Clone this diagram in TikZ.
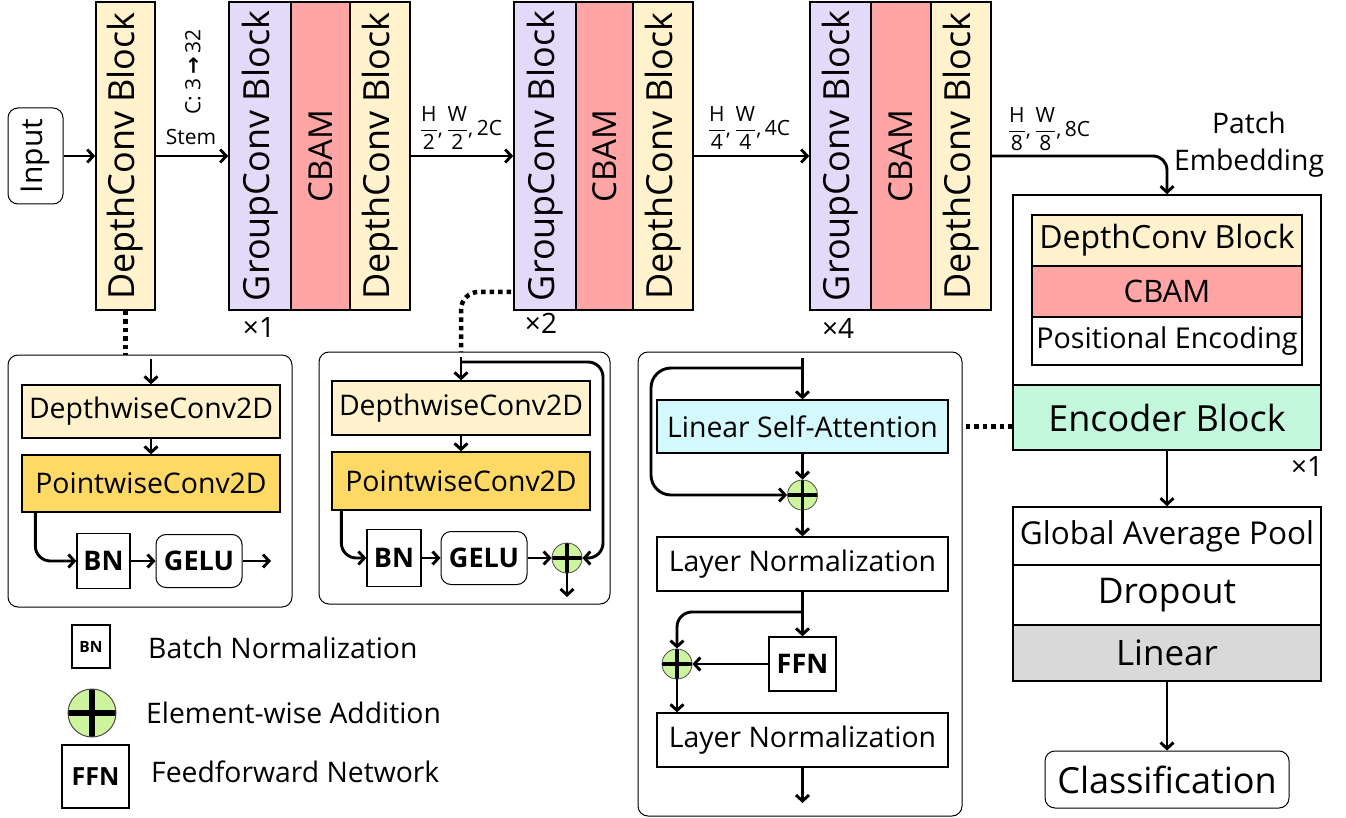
\documentclass[tikz,border=0pt]{standalone}
\usepackage{fontspec}
\setmainfont{Open Sans}
\newfontfamily\djv{DejaVu Sans}
\usepackage{graphicx}
\usetikzlibrary{arrows.meta,calc}
\definecolor{yel}{HTML}{FFF2CC}
\definecolor{pur}{HTML}{E3DAFA}
\definecolor{sal}{HTML}{FFA5A5}
\definecolor{gold}{HTML}{FFD966}
\definecolor{cyanl}{HTML}{D4F9FD}
\definecolor{mint}{HTML}{C3F8DD}
\definecolor{lgray}{HTML}{D9D9D9}
\definecolor{addg}{HTML}{CDF59E}
\newcommand{\fsz}[1]{\fontsize{#1}{#1}\selectfont}
\newcommand{\fr}[2]{$\displaystyle\frac{\mbox{#1}}{\mbox{#2}}$}
\begin{document}
\begin{tikzpicture}[x=1pt,y=-1pt,
  base/.style={draw, line width=1.6pt, inner sep=0pt, align=center},
  vb/.style={base, minimum height=308, font=\fsz{36}},
  arr/.style={line width=2.9pt, -{Straight Barb[length=6pt,width=13pt]}},
  dots/.style={line width=4.5pt, dash pattern=on 4.5pt off 4pt},
  rbox/.style={draw, line width=1pt, rounded corners=10pt, inner sep=0pt},
  addc/.style={circle, draw=black!70, line width=0.8pt, fill=addg, minimum size=30, inner sep=0pt,
    path picture={\draw[black, line width=3.8pt] (path picture bounding box.north) -- (path picture bounding box.south) (path picture bounding box.west) -- (path picture bounding box.east);}},
  addbig/.style={circle, draw=black!70, line width=1pt, fill=addg, minimum size=48, inner sep=0pt,
    path picture={\draw[black, line width=6.5pt] (path picture bounding box.north) -- (path picture bounding box.south) (path picture bounding box.west) -- (path picture bounding box.east);}},
  lab/.style={font=\fsz{21}, inner sep=1pt},
  txt/.style={font=\fsz{28.3}, inner sep=0pt, anchor=west},
  sub/.style={base, line width=1.3pt, font=\fsz{28.4}},
  bld/.style={base, line width=1.3pt, font=\bfseries\fsz{27}}
]
\useasboundingbox (0,0) rectangle (1346,818);

% ---------- top row ----------
\node[rbox, minimum width=55, minimum height=96, font=\fsz{30}] (in) at (35.5,156) {\rotatebox{90}{Input}};
\node[vb, fill=yel, minimum width=59] (dc1) at (125.5,156) {\rotatebox{90}{DepthConv Block}};

\node[vb, fill=pur, minimum width=62] (gc1) at (260,156) {\rotatebox{90}{GroupConv Block}};
\node[vb, fill=sal, minimum width=59, font=\fsz{33}] (cb1) at (320.5,156) {\rotatebox{90}{CBAM}};
\node[vb, fill=yel, minimum width=60] (dd1) at (380,156) {\rotatebox{90}{DepthConv Block}};

\node[vb, fill=pur, minimum width=62] (gc2) at (545,156) {\rotatebox{90}{GroupConv Block}};
\node[vb, fill=sal, minimum width=57, font=\fsz{33}] (cb2) at (604.5,156) {\rotatebox{90}{CBAM}};
\node[vb, fill=yel, minimum width=60] (dd2) at (663,156) {\rotatebox{90}{DepthConv Block}};

\node[vb, fill=pur, minimum width=61] (gc3) at (840.5,156) {\rotatebox{90}{GroupConv Block}};
\node[vb, fill=sal, minimum width=60, font=\fsz{33}] (cb3) at (901,156) {\rotatebox{90}{CBAM}};
\node[vb, fill=yel, minimum width=60] (dd3) at (961,156) {\rotatebox{90}{DepthConv Block}};

\node[font=\fsz{28}, inner sep=0pt] (m1) at (259,328) {×1};
\node[font=\fsz{28}, inner sep=0pt] (m2) at (541,323) {×2};
\node[font=\fsz{28}, inner sep=0pt] (m3) at (838,328) {×4};

\node[lab] (stem) at (191,137) {Stem};
\node[lab, rotate=90] (chan) at (193,72) {C: 3\,{\djv\bfseries →}\,32};
\node[lab, font=\fsz{21}] (f1) at (461,128) {\fr{H}{2},\,\fr{W}{2},\,2C};
\node[lab, font=\fsz{21}] (f2) at (749,128) {\fr{H}{4},\,\fr{W}{4},\,4C};
\node[lab, font=\fsz{21}] (f3) at (1049,129) {\fr{H}{8},\,\fr{W}{8},\,8C};

% ---------- right column ----------
\node[base, minimum width=308, minimum height=190] (pe) at (1167,290) {};
\node[sub, fill=yel, minimum width=270, minimum height=51, font=\fsz{32}] (pdc) at (1167,240.5) {DepthConv Block};
\node[sub, fill=sal, minimum width=270, minimum height=51, font=\fsz{31}] (pcb) at (1167,291.5) {CBAM};
\node[sub, fill=white, minimum width=270, minimum height=48, font=\fsz{28.7}] (ppe) at (1167,341) {Positional Encoding};
\node[base, fill=mint, minimum width=308, minimum height=65, font=\fsz{36}] (enc) at (1167,417.5) {Encoder Block};
\node[font=\fsz{28}, inner sep=0pt] (m4) at (1307,467) {×1};
\node[font=\fontsize{28.3}{37}\selectfont, align=center, inner sep=0pt] (pemb) at (1249,145) {Patch\\Embedding};

\node[base, minimum width=308, minimum height=58, font=\fsz{31.5}] (gap) at (1167,536) {Global Average Pool};
\node[base, minimum width=308, minimum height=60, font=\fsz{35.4}] (drop) at (1167,595) {Dropout};
\node[base, fill=lgray, minimum width=308, minimum height=56, font=\fsz{35}] (lin) at (1167,653) {Linear};
\node[rbox, minimum width=244, minimum height=57, font=\fsz{36}] (cls) at (1167,779.5) {Classification};

% top arrows
\draw[arr] (in.east) -- (dc1.west);
\draw[arr] (dc1.east) -- (gc1.west);
\draw[arr] (dd1.east) -- (gc2.west);
\draw[arr] (dd2.east) -- (gc3.west);
\draw[arr, rounded corners=14] (dd3.east) -| (pe.north);
\draw[arr] (enc.south) -- (gap.north);
\draw[arr] (lin.south) -- (cls.north);

% ---------- left box 1 ----------
\node[rbox, minimum width=284, minimum height=252] (lb1) at (150,481) {};
\node[sub, fill=yel, minimum width=258, minimum height=53] (dw1) at (151,411.5) {DepthwiseConv2D};
\node[sub, fill=gold, minimum width=258, minimum height=57] (pw1) at (151,483.5) {PointwiseConv2D};
\node[bld, minimum width=53, minimum height=55] (bn1) at (103.5,561) {BN};
\node[rbox, minimum width=86, minimum height=53, font=\bfseries\fsz{27}] (ge1) at (199,561) {GELU};
\coordinate (t1) at (151,359);
\coordinate (o1) at (271,561);
\draw[dots] (dc1.south) -- (dc1.south |- lb1.north);
\draw[arr] (t1) -- (dw1.north);
\draw[arr] (dw1.south) -- (pw1.north);
\draw[arr, rounded corners=15] ($(pw1.south west)+(14,0)$) |- (bn1.west);
\draw[arr] (bn1.east) -- (ge1.west);
\draw[arr] (ge1.east) -- (o1);

% ---------- middle box 2 ----------
\node[rbox, minimum width=291, minimum height=252] (lb2) at (464.5,478) {};
\node[sub, fill=yel, minimum width=258, minimum height=54] (dw2) at (461,408) {DepthwiseConv2D};
\node[sub, fill=gold, minimum width=258, minimum height=58] (pw2) at (461,481) {PointwiseConv2D};
\node[bld, minimum width=54, minimum height=57] (bn2) at (394,558) {BN};
\node[rbox, minimum width=86, minimum height=53, font=\bfseries\fsz{27}] (ge2) at (484,558) {GELU};
\node[addc] (add2) at (567,558) {};
\coordinate (d2) at (461,352);
\coordinate (s2) at (461,357);
\coordinate (r2) at (461,362);
\coordinate (r2b) at (603,362);
\coordinate (o2) at (567,597);
\draw[dots, rounded corners=18] ($(gc2.south west)+(-2,-19)$) -| (d2);
\draw[arr] (s2) -- (dw2.north);
\draw[arr, rounded corners=15] (r2) -- (r2b) |- (add2.east);
\draw[arr] (dw2.south) -- (pw2.north);
\draw[arr, rounded corners=15] ($(pw2.south west)+(10,0)$) |- (bn2.west);
\draw[arr] (bn2.east) -- (ge2.west);
\draw[arr] (ge2.east) -- (add2.west);
\draw[arr] (add2.south) -- (o2);

% ---------- third box ----------
\node[rbox, minimum width=324, minimum height=464] (lb3) at (800,584) {};
\node[sub, fill=cyanl, minimum width=291, minimum height=53] (lsa) at (802.5,426.5) {Linear Self-Attention};
\node[addc] (add3) at (802.5,495) {};
\node[sub, minimum width=291, minimum height=54] (ln1) at (802.5,564) {Layer Normalization};
\node[bld, minimum width=67, minimum height=54] (ffn) at (802.5,664) {FFN};
\node[addc] (add4) at (677,664) {};
\node[sub, minimum width=291, minimum height=54] (ln2) at (802.5,740) {Layer Normalization};
\coordinate (t3) at (802.5,358);
\coordinate (b3a) at (802.5,368);
\coordinate (b3b) at (651,368);
\coordinate (b4a) at (802.5,612);
\coordinate (o3) at (802.5,803);
\draw[arr] (t3) -- (lsa.north);
\draw[arr, rounded corners=20] (b3a) -- (b3b) |- (add3.west);
\draw[arr] (lsa.south) -- (add3.north);
\draw[arr] (add3.south) -- (ln1.north);
\draw[arr] (ln1.south) -- (ffn.north);
\draw[arr, rounded corners=15] (b4a) -| (add4.north);
\draw[arr] (ffn.west) -- (add4.east);
\draw[arr] (add4.south) -- (add4.south |- ln2.north);
\draw[arr] (ln2.south) -- (o3);
\draw[dots] ($(lsa.east)+(17,0)$) -- (lsa.east -| enc.west);

% ---------- legend ----------
\node[base, line width=1.3pt, minimum width=38, minimum height=43, font=\bfseries\fsz{15.5}] (lbn) at (91,646.5) {BN};
\node[txt] (tbn) at (148,648) {Batch Normalization};
\node[addbig] (ladd) at (92,713) {};
\node[txt] (tadd) at (146,713) {Element-wise Addition};
\node[base, line width=1.5pt, minimum width=67, minimum height=63, font=\bfseries\fsz{25}] (lffn) at (95.5,776.5) {FFN};
\node[txt] (tffn) at (151,772) {Feedforward Network};
\end{tikzpicture}
\end{document}
